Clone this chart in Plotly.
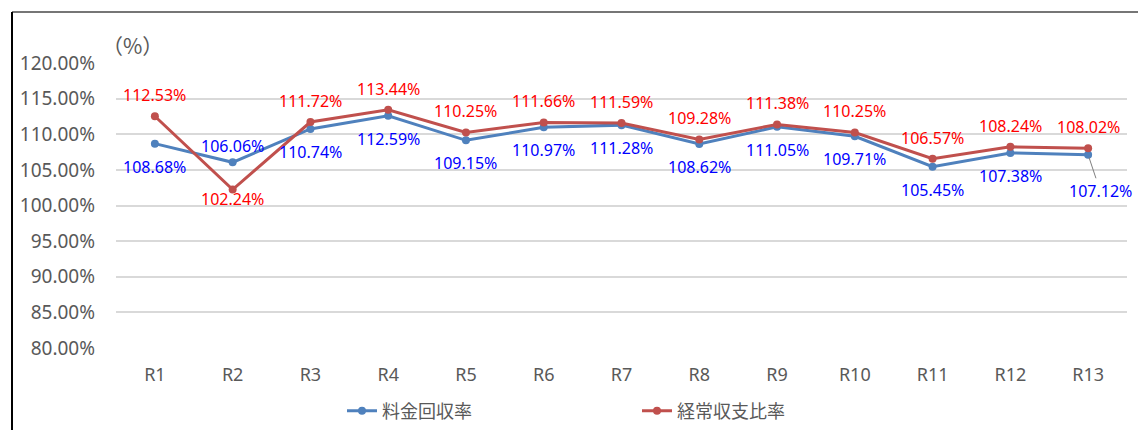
import plotly.graph_objects as go

categories = ["R1", "R2", "R3", "R4", "R5", "R6", "R7", "R8", "R9", "R10", "R11", "R12", "R13"]
ryokin = [108.68, 106.06, 110.74, 112.59, 109.15, 110.97, 111.28, 108.62, 111.05, 109.71, 105.45, 107.38, 107.12]
keijo = [112.53, 102.24, 111.72, 113.44, 110.25, 111.66, 111.59, 109.28, 111.38, 110.25, 106.57, 108.24, 108.02]
tick_vals = [80, 85, 90, 95, 100, 105, 110, 115, 120]
tick_text = [f"{v:.2f}%" for v in tick_vals]

# label vertical offsets (px): positive = above
blue_shift = [-23, 16, -23, -23, -23, -23, -23, -23, -23, -23, -23, -23, None]
red_shift = [21, -9, 21, 21, 21, 21, 21, 21, 21, 21, 21, 21, 21]

BLUE = "#4F81BD"
RED = "#C0504D"
FONT = "Noto Sans, Noto Sans CJK JP, sans-serif"
W, H = 1146, 430
OFF = 8  # page body margin


def px_x(p):
    return (p - OFF) / W


def px_y(p):
    return 1 - (p - OFF) / H


fig = go.Figure()
fig.add_trace(go.Scatter(x=categories, y=ryokin, mode="lines+markers", name="料金回収率",
                         line=dict(color=BLUE, width=3), marker=dict(size=8, color=BLUE)))
fig.add_trace(go.Scatter(x=categories, y=keijo, mode="lines+markers", name="経常収支比率",
                         line=dict(color=RED, width=3), marker=dict(size=8, color=RED)))

annotations = []
for c, v, s in zip(categories, ryokin, blue_shift):
    if s is None:
        annotations.append(dict(x=c, y=v, xref="x", yref="y", text=f"{v:.2f}%", showarrow=True,
                                arrowhead=0, arrowwidth=1, arrowcolor="#7f7f7f", ax=12, ay=36,
                                standoff=3, font=dict(color="#0000FF", size=16, family=FONT)))
    else:
        annotations.append(dict(x=c, y=v, xref="x", yref="y", text=f"{v:.2f}%", showarrow=False,
                                yshift=s, font=dict(color="#0000FF", size=16, family=FONT)))
for c, v, s in zip(categories, keijo, red_shift):
    annotations.append(dict(x=c, y=v, xref="x", yref="y", text=f"{v:.2f}%", showarrow=False,
                            yshift=s, font=dict(color="#FF0000", size=16, family=FONT)))
annotations.append(dict(x=px_x(132), y=px_y(45), xref="paper", yref="paper", text="（%）",
                        xanchor="center", yanchor="middle", showarrow=False,
                        font=dict(color="#595959", size=21, family="Noto Sans CJK JP")))

shapes = [
    dict(type="line", xref="paper", yref="paper", x0=px_x(12), x1=px_x(1144), y0=px_y(12), y1=px_y(12),
         line=dict(color="#767676", width=2)),
    dict(type="line", xref="paper", yref="paper", x0=px_x(12), x1=px_x(12), y0=px_y(12), y1=px_y(440),
         line=dict(color="#000000", width=2)),
    dict(type="line", xref="paper", yref="paper", x0=px_x(1144), x1=px_x(1144), y0=px_y(12), y1=px_y(440),
         line=dict(color="#000000", width=2)),
]

fig.update_layout(
    width=W, height=H,
    margin=dict(l=0, r=0, t=0, b=0),
    paper_bgcolor="white", plot_bgcolor="white",
    font=dict(family=FONT, color="#595959", size=18),
    showlegend=True,
    legend=dict(orientation="h", x=px_x(342), y=px_y(411), xanchor="left", yanchor="middle",
                entrywidth=250, entrywidthmode="pixels", itemwidth=30,
                font=dict(size=18, color="#595959"), bgcolor="rgba(0,0,0,0)"),
    annotations=annotations,
    shapes=shapes,
)
fig.update_xaxes(type="category", range=[-0.5, 12.5], domain=[px_x(116), px_x(1127)],
                 showgrid=False, showline=False, zeroline=False, automargin=False,
                 ticks="", ticklabelstandoff=14, tickfont=dict(size=18, color="#595959"))
fig.update_yaxes(range=[80, 120], domain=[px_y(348), px_y(63)], tickvals=tick_vals, ticktext=tick_text,
                 showgrid=True, automargin=False,
                 gridcolor="#D9D9D9", gridwidth=2, zeroline=False, showline=False, ticks="",
                 ticklabelstandoff=20, tickfont=dict(size=19, color="#595959"))

fig.write_html("out.html")
